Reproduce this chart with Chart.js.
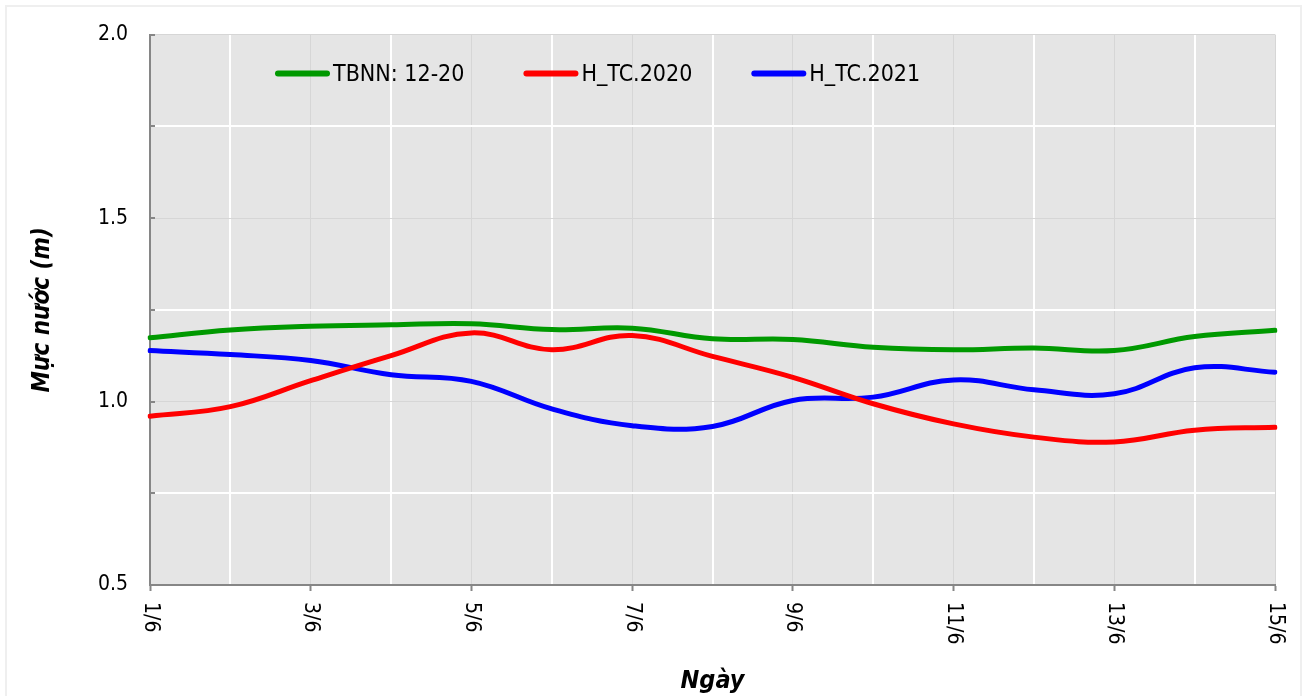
<!DOCTYPE html>
<html>
<head>
<meta charset="utf-8">
<script src="https://cdn.jsdelivr.net/npm/chart.js@4.4.1/dist/chart.umd.min.js"></script>
<style>
  html, body { margin: 0; padding: 0; background: #fff; }
  .frame { position: absolute; left: 5px; top: 5px; width: 1293px; height: 700px; border: 2px solid #efefef; }
  #waterChart { position: absolute; left: 0; top: 0; }
</style>
</head>
<body>
<div class="frame"></div>
<canvas id="waterChart" width="1307" height="696"></canvas>
<script>
  // days of June
  const days = ["1/6", "2/6", "3/6", "4/6", "5/6", "6/6", "7/6", "8/6", "9/6", "10/6", "11/6", "12/6", "13/6", "14/6", "15/6"];
  const tbnn = [1.174, 1.195, 1.205, 1.209, 1.212, 1.196, 1.200, 1.171, 1.169, 1.148, 1.141, 1.146, 1.139, 1.177, 1.194];
  const h2020 = [0.960, 0.986, 1.057, 1.125, 1.187, 1.141, 1.180, 1.123, 1.066, 0.994, 0.939, 0.903, 0.890, 0.922, 0.930];
  const h2021 = [1.139, 1.128, 1.112, 1.073, 1.055, 0.980, 0.934, 0.932, 1.003, 1.012, 1.059, 1.032, 1.021, 1.092, 1.080];

  const FONT = '"DejaVu Sans Condensed", "Liberation Sans", sans-serif';
  const AXIS = "#868686";
  const GRID_MAJOR = "#d6d6d6";

  // background, inward y ticks, rotated x labels and the in-plot legend
  const decor = {
    id: "decor",
    beforeDraw(chart) {
      const { ctx, chartArea: a } = chart;
      ctx.save();
      ctx.fillStyle = "#e5e5e5";
      ctx.fillRect(a.left, a.top, a.right - a.left, a.bottom - a.top);
      ctx.restore();
    },
    afterDraw(chart) {
      const { ctx, chartArea: a } = chart;
      const y = chart.scales.y, x = chart.scales.x;
      ctx.save();
      ctx.strokeStyle = AXIS;
      ctx.lineWidth = 2;
      y.ticks.forEach(t => {
        const py = Math.round(y.getPixelForValue(t.value));
        ctx.beginPath();
        ctx.moveTo(a.left, py);
        ctx.lineTo(a.left + 5, py);
        ctx.stroke();
      });

      ctx.fillStyle = "#000";
      ctx.font = "21px " + FONT;
      ctx.textAlign = "left";
      ctx.textBaseline = "middle";
      x.ticks.forEach((t, i) => {
        if (i % 2) return;
        ctx.save();
        ctx.translate(x.getPixelForTick(i), a.bottom + 17);
        ctx.rotate(Math.PI / 2);
        ctx.fillText(chart.data.labels[i], 0, 0);
        ctx.restore();
      });

      ctx.font = "23px " + FONT;
      ctx.lineCap = "round";
      ctx.lineWidth = 6;
      let lx = a.left + 128;
      const ly = a.top + 39;
      chart.data.datasets.forEach(ds => {
        ctx.strokeStyle = ds.borderColor;
        ctx.beginPath();
        ctx.moveTo(lx, ly);
        ctx.lineTo(lx + 49, ly);
        ctx.stroke();
        ctx.fillText(ds.label, lx + 55, ly + 1);
        lx += 55 + ctx.measureText(ds.label).width + 62;
      });
      ctx.restore();
    }
  };

  const isMajor = v => Math.abs(v * 2 - Math.round(v * 2)) < 1e-6;

  new Chart(document.getElementById("waterChart"), {
    type: "line",
    data: {
      labels: days,
      datasets: [
        { label: "TBNN: 12-20", data: tbnn, borderColor: "#009900" },
        { label: "H_TC.2020", data: h2020, borderColor: "#ff0000" },
        { label: "H_TC.2021", data: h2021, borderColor: "#0000ff" }
      ]
    },
    options: {
      responsive: false,
      animation: false,
      layout: { padding: { left: 0, top: 33, right: 32, bottom: 0 } },
      elements: {
        point: { radius: 0 },
        line: { borderWidth: 5, tension: 0.4, borderCapStyle: "round", borderJoinStyle: "round", fill: false }
      },
      plugins: { legend: { display: false }, tooltip: { enabled: false } },
      scales: {
        x: {
          ticks: { display: false },
          grid: {
            color: c => (c.index % 2 ? "#ffffff" : GRID_MAJOR),
            lineWidth: c => (c.index % 2 ? 2 : 1),
            tickColor: c => (c.index % 2 ? "transparent" : AXIS),
            tickWidth: 2,
            tickLength: 6
          },
          border: { color: AXIS, width: 2 },
          title: {
            display: true,
            text: "Ngày",
            color: "#000",
            font: { family: FONT, size: 25, weight: "bold", style: "italic" },
            padding: { top: 0, bottom: 0 }
          },
          afterFit: s => { s.height = 111; }
        },
        y: {
          min: 0.5,
          max: 2.0,
          ticks: {
            stepSize: 0.25,
            padding: 22,
            color: "#000",
            font: { family: FONT, size: 21 },
            callback: v => (isMajor(v) ? v.toFixed(1) : "")
          },
          grid: {
            drawTicks: false,
            color: c => (isMajor(c.tick.value) ? GRID_MAJOR : "#ffffff"),
            lineWidth: c => (isMajor(c.tick.value) ? 1 : 2)
          },
          border: { color: AXIS, width: 2 },
          title: {
            display: true,
            text: "Mực nước (m)",
            color: "#000",
            font: { family: FONT, size: 24, weight: "bold", style: "italic" },
            padding: { top: 28, bottom: 0 }
          },
          afterFit: s => { s.width = 150; }
        }
      }
    },
    plugins: [decor]
  });
</script>
</body>
</html>
